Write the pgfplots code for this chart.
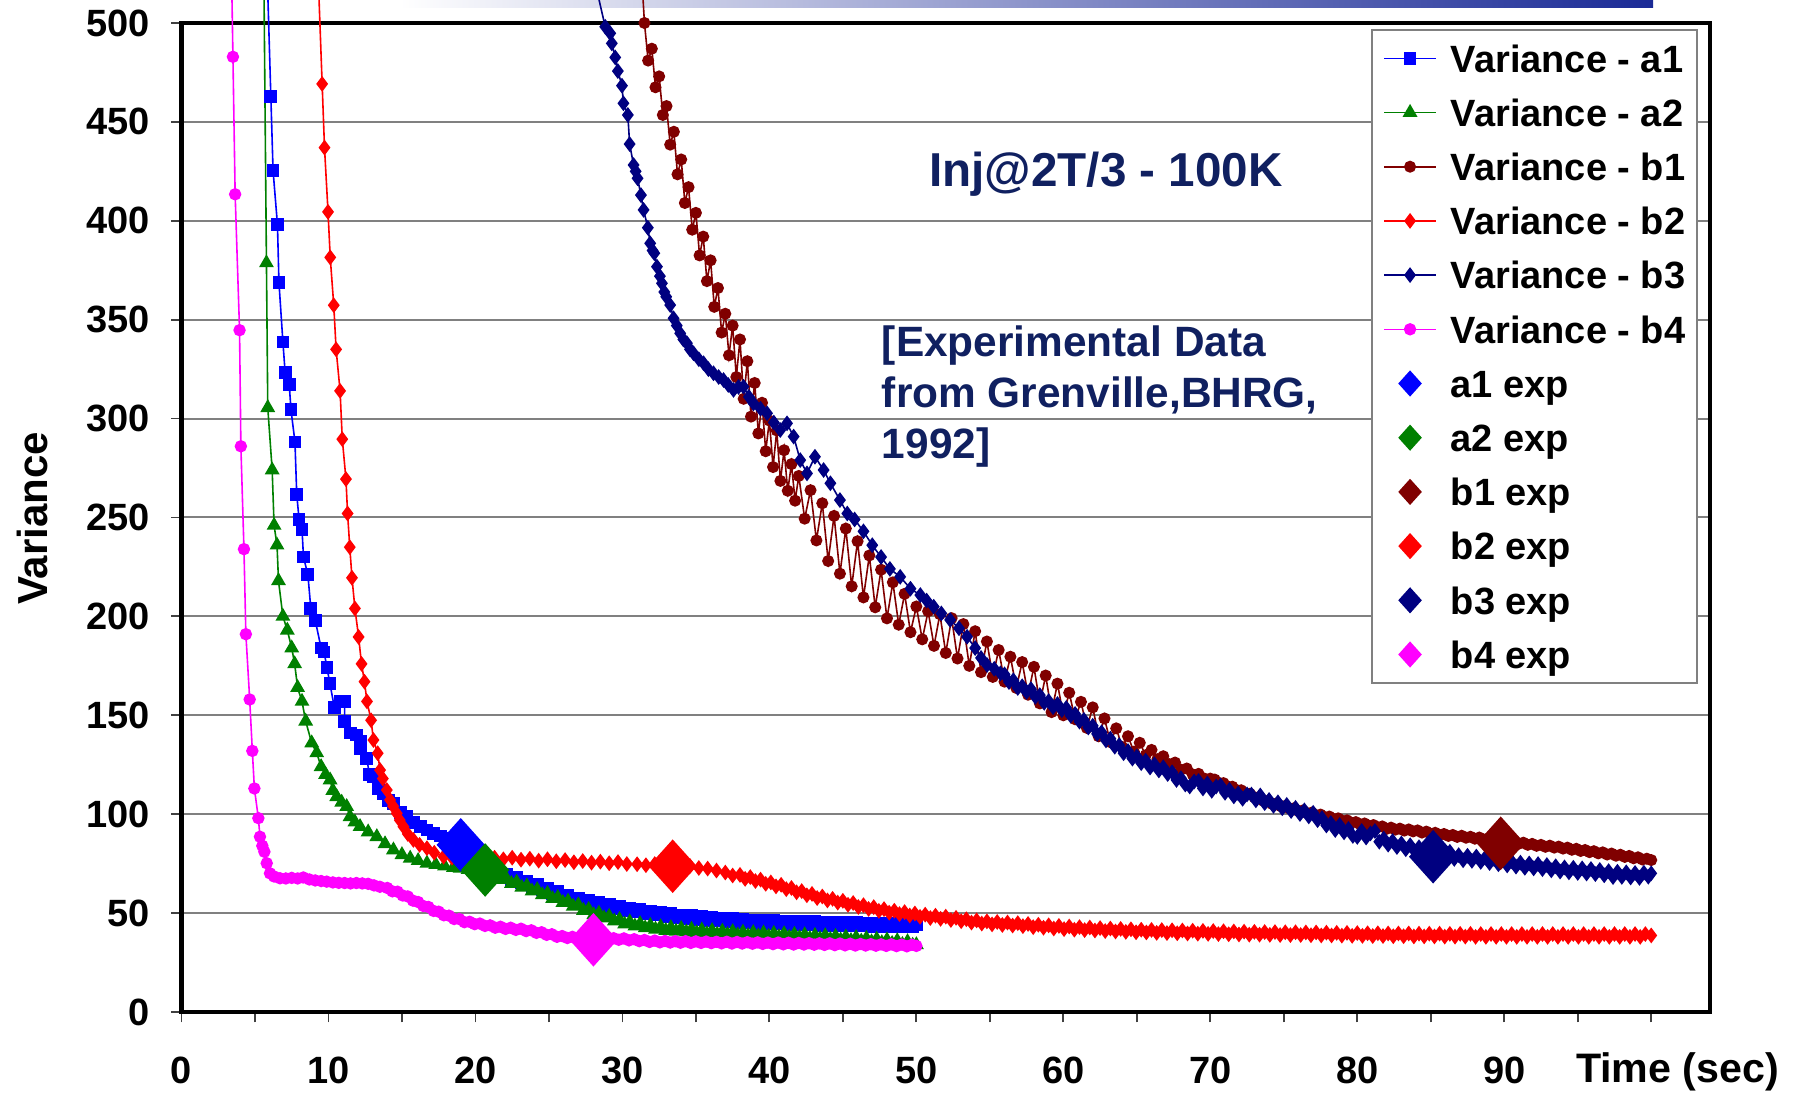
\documentclass[border=0pt]{standalone}
\usepackage{fontspec}
\setmainfont{Liberation Sans}
\usepackage{pgfplots}
\usepackage{pgfplotstable}
\pgfplotsset{compat=1.18}
\definecolor{cA1}{RGB}{0,0,255}
\definecolor{cA2}{RGB}{0,128,0}
\definecolor{cB1}{RGB}{128,0,0}
\definecolor{cB2}{RGB}{255,0,0}
\definecolor{cB3}{RGB}{0,0,128}
\definecolor{cB4}{RGB}{255,0,255}
\definecolor{txtnavy}{RGB}{16,32,96}
\definecolor{bannerdark}{RGB}{26,42,150}
\newcommand{\lstrut}{\rule[-3.35pt]{0pt}{13.55pt}}
\pgfplotsset{
  expimg/.style={legend image code/.code={\draw[##1, mark size=2.9pt] plot coordinates {(6.5pt,0pt)};}},
  expmark/.style={only marks, color=#1, mark=diamond*, mark size=6.4pt, mark options={xscale=1.2, fill=#1}, expimg},
}

\pgfplotstableread{
x y
5.69 560
6.08 462.7
6.23 425.4
6.53 398
6.63 368.9
6.90 338.7
7.05 323.5
7.33 317.3
7.45 304.4
7.72 288.2
7.84 261.8
8.00 249
8.20 244
8.30 230
8.60 221
8.80 204
9.10 198
9.50 184
9.70 182
9.90 174
10.10 166
10.40 154
10.80 157
11.10 157
11.10 147
11.50 141
11.90 140
12.20 137
12.20 133
12.60 128
12.80 120
13.06 119
13.40 113
13.74 110.6
14.10 107
14.42 105.5
14.90 101
15.33 98.7
15.80 96
16.24 93.7
16.70 92
17.14 90.3
17.60 89
18.05 87.8
18.50 85
18.96 82.8
19.50 80
20.00 78.8
20.35 75.3
20.70 75.0
21.05 71.5
21.40 71.9
21.75 69.1
22.10 69.6
22.45 67.1
22.80 67.8
23.15 65.3
23.50 66.1
23.85 63.6
24.20 64.3
24.55 61.8
24.90 62.6
25.25 60.1
25.60 60.8
25.95 58.3
26.30 59.1
26.65 56.6
27.00 57.3
27.35 55.2
27.70 56.3
28.05 54.2
28.40 55.4
28.75 53.5
29.10 54.6
29.45 52.3
29.80 53.2
30.15 51.1
30.50 52.5
30.85 50.6
31.20 51.8
31.55 49.8
31.90 50.9
32.25 49.0
32.60 50.2
32.95 48.2
33.30 49.6
33.65 47.7
34.00 49.0
34.35 47.2
34.70 48.6
35.05 46.8
35.40 48.2
35.75 46.4
36.10 47.8
36.45 46.0
36.80 47.4
37.15 45.6
37.50 47.1
37.85 45.4
38.20 46.8
38.55 45.1
38.90 46.5
39.25 44.8
39.60 46.3
39.95 44.6
40.30 46.1
40.65 44.5
41.00 46.0
41.35 44.3
41.70 45.9
42.05 44.2
42.40 45.7
42.75 44.1
43.10 45.6
43.45 43.9
43.80 45.4
44.15 43.8
44.50 45.3
44.85 43.7
45.20 45.2
45.55 43.6
45.90 45.1
46.25 43.5
46.60 45.0
46.95 43.4
47.30 44.9
47.65 43.3
48.00 44.8
48.35 43.2
48.70 44.7
49.05 43.1
49.40 44.6
49.75 43.0
50.00 44.2
}\tAone

\pgfplotstableread{
x y
5.56 560
5.78 378.7
5.87 305.5
6.17 274
6.30 246
6.50 236
6.60 218
6.90 200
7.20 193
7.50 184
7.70 176
7.90 164
8.20 157
8.45 147
8.86 136
9.20 131
9.50 124
9.80 120
10.11 117.3
10.30 112
10.56 108.8
10.90 106
11.24 103.8
11.47 98.7
11.80 96
12.15 93.7
12.70 91
13.29 88.6
13.85 85
14.42 81.9
15.00 79.5
15.56 77.7
16.10 76.5
16.70 75.2
17.30 74.5
17.90 73.8
18.50 73
18.96 72.6
19.50 72
20.00 72.3
20.35 70.1
20.70 71.1
21.05 68.9
21.40 69.5
21.75 66.9
22.10 67.5
22.45 64.9
22.80 65.6
23.15 63.0
23.50 63.7
23.85 61.1
24.20 61.8
24.55 59.2
24.90 59.9
25.25 57.3
25.60 57.9
25.95 55.3
26.30 56.0
26.65 53.4
27.00 54.1
27.35 51.3
27.70 51.8
28.05 49.1
28.40 49.9
28.75 47.5
29.10 48.3
29.45 45.9
29.80 46.7
30.15 44.4
30.50 45.5
30.85 43.4
31.20 44.6
31.55 42.5
31.90 43.7
32.25 41.8
32.60 43.1
32.95 41.2
33.30 42.6
33.65 40.8
34.00 42.2
34.35 40.4
34.70 41.8
35.05 40.0
35.40 41.4
35.75 39.6
36.10 41.1
36.45 39.3
36.80 40.8
37.15 39.1
37.50 40.6
37.85 38.9
38.20 40.3
38.55 38.6
38.90 40.1
39.25 38.4
39.60 39.9
39.95 38.2
40.30 39.7
40.65 38.0
41.00 39.5
41.35 37.7
41.70 39.2
42.05 37.5
42.40 39.0
42.75 37.2
43.10 38.7
43.45 37.0
43.80 38.5
44.15 36.7
44.50 38.2
44.85 36.4
45.20 37.9
45.55 36.1
45.90 37.6
46.25 35.8
46.60 37.2
46.95 35.4
47.30 36.8
47.65 35.0
48.00 36.4
48.35 34.6
48.70 36.0
49.05 34.1
49.40 35.5
49.75 33.7
50.00 34.0
}\tAtwo

\pgfplotstableread{
x y
31.30 525
31.50 500
31.75 481
32.00 487
32.25 467.5
32.50 473
32.75 453.5
33.00 458
33.25 438.5
33.50 445
33.75 423.5
34.00 431
34.25 409
34.50 417
34.75 395.5
35.00 404
35.25 382.5
35.50 392
35.75 369.5
36.00 380
36.25 356.5
36.50 366
36.75 343.5
37.00 353
37.25 332
37.50 347
37.75 321
38.00 340
38.25 310
38.50 329
38.75 301
39.00 318
39.25 292.5
39.50 308
39.75 283.5
40.00 299
40.25 275.5
40.50 294
40.75 268.5
41.00 284
41.25 263.5
41.50 277
41.75 258.5
42.00 271
42.40 249.4
42.80 263.8
43.20 238.4
43.60 257.2
44.00 228
44.40 250.8
44.80 221.6
45.20 244.4
45.60 215.2
46.00 238
46.40 209.6
46.80 230.8
47.20 204.6
47.60 223.6
48.00 199
48.40 217.2
48.80 195.8
49.20 211.4
49.60 192
50.00 205
50.40 188.4
50.80 202.6
51.20 185.1
51.60 201.1
52.00 181.5
52.40 199.1
52.80 178.7
53.20 196.1
53.60 175
54.00 192.5
54.40 171.8
54.80 187.3
55.20 169.4
55.60 183
56.00 167
56.40 179.6
56.80 163.8
57.20 176.9
57.60 160.4
58.00 174.5
58.40 156
58.80 170.1
59.20 151.6
59.60 166
60.00 150
60.40 161.4
60.80 148
61.20 156.8
61.60 143.6
62.00 154
62.40 139.4
62.80 148.4
63.20 136.4
63.60 143.4
64.00 134
64.40 139.4
64.80 131.6
65.20 136.1
65.60 129.8
66.00 132.5
66.40 127.8
66.80 129.3
67.20 125.3
67.60 126.1
68.00 122.5
68.40 123.1
68.80 120.1
69.20 120.4
69.60 118
70.00 118
70.30 117.5
70.60 115.8
70.90 115.7
71.20 114.0
71.50 113.9
71.80 112.2
72.10 112.1
72.40 110.4
72.70 110.3
73.00 108.6
73.30 108.5
73.60 106.8
73.90 106.7
74.20 105.2
74.50 105.4
74.80 104.0
75.10 104.2
75.40 102.8
75.70 103.0
76.00 101.6
76.30 101.9
76.60 100.5
76.90 100.8
77.20 99.5
77.50 99.8
77.80 98.5
78.10 98.8
78.40 97.5
78.70 97.9
79.00 96.6
79.30 96.9
79.60 95.7
79.90 96.0
80.20 94.9
80.50 95.3
80.80 94.1
81.10 94.5
81.40 93.4
81.70 93.8
82.00 92.6
82.30 93.2
82.60 92.2
82.90 92.7
83.20 91.7
83.50 92.3
83.80 91.3
84.10 91.8
84.40 90.7
84.70 91.2
85.00 90.1
85.30 90.6
85.60 89.5
85.90 90.0
86.20 89.0
86.50 89.5
86.80 88.5
87.10 89.1
87.40 88.1
87.70 88.6
88.00 87.6
88.30 88.2
88.60 87.2
88.90 87.7
89.20 86.7
89.50 87.3
89.80 86.3
90.10 86.8
90.40 85.7
90.70 86.2
91.00 85.1
91.30 85.6
91.60 84.5
91.90 85.0
92.20 84.0
92.50 84.5
92.80 83.5
93.10 84.1
93.40 83.1
93.70 83.6
94.00 82.6
94.30 83.1
94.60 82.0
94.90 82.5
95.20 81.4
95.50 81.9
95.80 80.8
96.10 81.3
96.40 80.2
96.70 80.7
97.00 79.6
97.30 80.1
97.60 79.0
97.90 79.5
98.20 78.4
98.50 78.9
98.80 77.7
99.10 78.2
99.40 77.1
99.70 77.5
100.00 76.8
}\tBone

\pgfplotstableread{
x y
9.12 560
9.57 469.2
9.73 437
9.97 404.5
10.12 381.5
10.36 357.3
10.52 335
10.79 314
10.94 289.6
11.19 269.4
11.30 252
11.45 235
11.60 219.5
11.80 204
12.05 189.6
12.25 176
12.45 167
12.62 157
12.90 147.5
13.06 137.5
13.35 130.8
13.51 122.3
13.70 118
13.97 112.2
14.19 107.2
14.40 104
14.65 100.4
14.85 97
15.10 93.7
15.40 90
15.78 87
16.20 84.5
16.70 82.8
17.20 80.5
17.83 78.5
18.40 78
19.00 78.2
19.60 77.5
20.10 78.5
20.70 77.5
21.30 78
21.90 77.2
22.50 78
23.10 77
23.70 77.5
24.30 76.5
24.90 77.2
25.50 76.2
26.10 76.8
26.70 75.7
27.30 76.3
27.90 75.5
28.50 76
29.10 75.2
29.70 75.8
30.30 74.8
31.00 74.7
31.60 74.2
32.20 74.8
32.80 73.8
33.40 74.2
34.00 73.5
34.60 73.8
35.20 72.8
35.80 72.5
36.40 71.5
37.00 70.5
37.50 69
38.00 69.3
38.35 67.3
38.70 68.2
39.05 66.2
39.40 66.9
39.75 64.8
40.10 65.5
40.45 63.5
40.80 64.3
41.15 62.1
41.50 62.7
41.85 60.5
42.20 61.1
42.55 59.0
42.90 59.7
43.25 57.6
43.60 58.4
43.95 56.4
44.30 57.2
44.65 55.3
45.00 56.2
45.35 54.2
45.70 55.1
46.05 53.1
46.40 54.0
46.75 52.1
47.10 53.0
47.45 51.1
47.80 52.0
48.15 50.2
48.50 51.2
48.85 49.5
49.20 50.5
49.55 48.8
49.90 49.8
50.25 48.1
50.60 49.2
50.95 47.5
51.30 48.7
51.65 47.1
52.00 48.2
52.35 46.5
52.70 47.6
53.05 45.9
53.40 46.9
53.75 45.2
54.10 46.3
54.45 44.7
54.80 45.8
55.15 44.3
55.50 45.5
55.85 44.0
56.20 45.2
56.55 43.7
56.90 44.9
57.25 43.4
57.60 44.5
57.95 42.9
58.30 44.1
58.65 42.6
59.00 43.8
59.35 42.2
59.70 43.5
60.05 41.9
60.40 43.2
60.75 41.6
61.10 42.9
61.45 41.4
61.80 42.7
62.15 41.2
62.50 42.4
62.85 40.9
63.20 42.2
63.55 40.7
63.90 42.0
64.25 40.5
64.60 41.8
64.95 40.3
65.30 41.6
65.65 40.2
66.00 41.5
66.35 40.0
66.70 41.4
67.05 39.9
67.40 41.3
67.75 39.8
68.10 41.2
68.45 39.7
68.80 41.1
69.15 39.6
69.50 41.0
69.85 39.5
70.20 40.9
70.55 39.4
70.90 40.8
71.25 39.3
71.60 40.7
71.95 39.2
72.30 40.6
72.65 39.1
73.00 40.5
73.35 39.1
73.70 40.4
74.05 39.0
74.40 40.4
74.75 38.9
75.10 40.3
75.45 38.9
75.80 40.3
76.15 38.9
76.50 40.2
76.85 38.8
77.20 40.2
77.55 38.7
77.90 40.1
78.25 38.7
78.60 40.0
78.95 38.6
79.30 40.0
79.65 38.5
80.00 39.9
80.35 38.5
80.70 39.8
81.05 38.4
81.40 39.8
81.75 38.4
82.10 39.7
82.45 38.3
82.80 39.7
83.15 38.3
83.50 39.7
83.85 38.2
84.20 39.6
84.55 38.2
84.90 39.6
85.25 38.2
85.60 39.6
85.95 38.1
86.30 39.5
86.65 38.1
87.00 39.5
87.35 38.1
87.70 39.5
88.05 38.0
88.40 39.4
88.75 38.0
89.10 39.4
89.45 38.0
89.80 39.4
90.15 38.0
90.50 39.4
90.85 38.0
91.20 39.4
91.55 38.0
91.90 39.4
92.25 38.0
92.60 39.4
92.95 38.0
93.30 39.4
93.65 38.0
94.00 39.4
94.35 38.0
94.70 39.4
95.05 38.0
95.40 39.4
95.75 38.0
96.10 39.4
96.45 38.0
96.80 39.4
97.15 38.0
97.50 39.4
97.85 38.0
98.20 39.4
98.55 38.0
98.90 39.4
99.25 38.0
99.60 39.4
100.00 38.7
}\tBtwo

\pgfplotstableread{
x y
28.00 525
28.83 498.1
29.17 494.8
29.28 489.7
29.51 482.6
29.69 475.7
29.97 468.3
30.07 459.4
30.37 453.5
30.49 438.8
30.76 428.2
30.90 425
31.03 421.5
31.26 413
31.44 405.5
31.73 396.5
31.89 388.6
32.05 385
32.17 383.6
32.35 376.8
32.55 372
32.69 368.4
32.85 364
32.98 361.6
33.25 357.4
33.48 350.7
33.70 347
33.93 343.1
34.15 340
34.39 338.1
34.60 335
34.84 333
35.20 330
35.52 328
35.85 325
36.20 322.9
36.55 321
36.88 319.5
37.20 317
37.56 314.5
37.90 316
38.24 316.1
38.60 311
38.92 307.7
39.40 305
39.84 302.7
40.30 298
40.74 294.2
41.20 297.6
41.65 290.9
42.10 279
42.56 272.3
43.10 280.7
43.69 274
44.15 267.3
44.80 258.8
45.30 252
45.80 249
46.40 243
47.00 236
47.60 230
48.20 224
48.90 220
49.60 214
50.27 210.8
50.70 208
51.18 204.9
51.70 201.5
52.30 198.2
52.90 194
53.45 189.7
54.00 184
54.40 179
54.81 175.4
55.30 173.5
55.72 171.2
56.00 170.7
56.30 166.8
56.60 167.7
56.90 163.8
57.20 164.7
57.50 161.8
57.80 163.2
58.10 159.3
58.40 160.2
58.70 156.3
59.00 157.2
59.30 154.1
59.60 155.7
59.90 152.6
60.20 153.7
60.50 149.8
60.80 150.7
61.10 146.8
61.40 147.7
61.70 143.8
62.00 144.7
62.30 140.6
62.60 141.4
62.90 137.3
63.20 138.2
63.50 134.1
63.80 134.9
64.10 130.8
64.40 131.9
64.70 128.1
65.00 129.2
65.30 125.8
65.60 127.1
65.90 123.6
66.20 125.2
66.50 122.1
66.80 123.7
67.10 120.3
67.40 121.2
67.70 117.3
68.00 118.2
68.30 115.0
68.60 114.0
68.90 116.5
69.20 116.8
69.50 113.0
69.80 115.5
70.10 111.8
70.40 114.0
70.70 114.5
71.00 110.8
71.30 112.3
71.60 109.0
71.90 110.5
72.20 107.8
72.50 110.0
72.80 109.9
73.10 107.0
73.40 109.5
73.70 105.6
74.00 107.2
74.30 104.2
74.60 106.0
74.90 103.0
75.20 104.7
75.50 101.6
75.80 103.2
76.10 100.1
76.40 101.9
76.70 98.9
77.00 100.7
77.30 97.0
77.60 98.0
77.90 94.3
78.20 95.5
78.50 92.0
78.80 94.5
79.10 90.8
79.40 92.5
79.70 89.0
80.00 88.5
80.30 91.5
80.60 88.2
80.90 90.3
81.20 91.5
81.50 86.1
81.80 87.7
82.10 84.6
82.40 86.4
82.70 83.4
83.00 85.2
83.30 82.3
83.60 84.3
83.90 81.4
84.20 83.3
84.50 80.5
84.80 82.5
85.10 79.6
85.40 81.6
85.70 78.7
86.00 80.7
86.30 81.0
86.60 77.4
86.90 79.3
87.20 76.7
87.50 79.0
87.80 76.4
88.10 78.6
88.40 75.9
88.70 78.0
89.00 75.3
89.30 77.4
89.60 74.7
89.90 76.8
90.20 74.1
90.50 76.2
90.80 73.5
91.10 75.5
91.40 72.9
91.70 75.1
92.00 72.6
92.30 74.8
92.60 72.2
92.90 74.3
93.20 71.6
93.50 73.7
93.80 71.0
94.10 73.1
94.40 70.6
94.70 72.9
95.00 70.3
95.30 72.6
95.60 70.0
95.90 72.3
96.20 69.7
96.50 71.8
96.80 69.1
97.10 71.2
97.40 68.2
97.70 70.9
98.00 68.3
98.30 70.6
98.60 68.0
98.90 70.3
99.20 67.8
99.50 70.4
99.80 68.4
100.00 70.1
}\tBthree

\pgfplotstableread{
x y
3.33 560
3.50 482.9
3.65 413.4
3.95 344.7
4.04 286
4.25 234
4.38 191
4.64 158
4.82 132
4.96 113
5.23 98
5.34 88.6
5.50 84
5.64 81
5.80 75.2
6.02 70.1
6.30 68.5
6.70 67.6
7.10 67.5
7.50 67.8
7.90 67.5
8.29 68
8.70 67
9.10 66.5
9.50 66.2
9.88 65.9
10.30 65.5
10.70 65.3
11.10 65.2
11.50 65
11.90 65.2
12.30 65
12.70 64.8
13.10 64
13.50 63.3
14.00 62.7
14.35 61.0
14.70 60.8
15.05 58.9
15.40 58.4
15.75 56.3
16.10 55.6
16.45 53.6
16.80 53.1
17.15 51.1
17.50 50.7
17.85 48.9
18.20 48.7
18.55 47.0
18.90 47.0
19.25 45.4
19.60 45.6
19.95 44.4
20.30 44.7
20.65 43.5
21.00 43.8
21.35 42.6
21.70 43.1
22.05 42.0
22.40 42.6
22.75 41.5
23.10 42.1
23.45 40.9
23.80 41.3
24.15 40.0
24.50 40.3
24.85 39.0
25.20 39.3
25.55 38.0
25.90 38.4
26.25 37.4
26.60 38.0
26.95 36.9
27.30 37.6
27.65 36.6
28.00 37.4
28.35 36.5
28.70 37.3
29.05 36.5
29.40 37.3
29.75 36.5
30.10 37.2
30.45 36.2
30.80 36.8
31.15 35.8
31.50 36.4
31.85 35.4
32.20 36.1
32.55 35.2
32.90 35.9
33.25 35.1
33.60 35.8
33.95 35.0
34.30 35.8
34.65 34.9
35.00 35.7
35.35 34.9
35.70 35.6
36.05 34.8
36.40 35.5
36.75 34.7
37.10 35.5
37.45 34.6
37.80 35.4
38.15 34.6
38.50 35.3
38.85 34.5
39.20 35.2
39.55 34.4
39.90 35.1
40.25 34.3
40.60 35.1
40.95 34.2
41.30 35.0
41.65 34.1
42.00 34.9
42.35 34.1
42.70 34.8
43.05 34.0
43.40 34.7
43.75 33.9
44.10 34.7
44.45 33.8
44.80 34.6
45.15 33.7
45.50 34.5
45.85 33.6
46.20 34.4
46.55 33.6
46.90 34.3
47.25 33.5
47.60 34.2
47.95 33.4
48.30 34.2
48.65 33.3
49.00 34.1
49.35 33.2
49.70 34.0
50.00 33.4
}\tBfour

\begin{document}
\begin{tikzpicture}
\useasboundingbox (-45.375pt,-21.5pt) rectangle (406.625pt,253pt);
\clip (-45.375pt,-21.5pt) rectangle (406.625pt,253pt);
\shade[left color=white, right color=bannerdark] (54.6pt,251pt) rectangle (367.9pt,253.5pt);
\begin{axis}[
  at={(0pt,0pt)}, anchor=south west,
  width=382.125pt, height=247.25pt, scale only axis,
  xmin=0, xmax=104, ymin=0, ymax=500,
  clip=false,
  axis line style={line width=1.1pt, black},
  xtick={0,10,...,90}, minor xtick={5,15,...,95,100},
  ytick={0,50,...,500},
  tick align=outside, xtick pos=left, ytick pos=left,
  major tick length=2.6pt, minor tick length=2.6pt,
  tick style={line width=0.45pt, black!75},
  ymajorgrids, grid style={line width=0.5pt, black!50},
  /pgf/number format/assume math mode=true,
  ticklabel style={font=\bfseries\fontsize{9.5}{11}\selectfont},
  xticklabel style={yshift=-5pt},
  yticklabel style={xshift=-1.8pt},
  legend cell align=left,
  legend style={
    at={(0.99208,0.99393)}, anchor=north east,
    draw=black!50, line width=0.5pt, fill=white,
    inner xsep=2.9pt, inner ysep=0.3pt,
    font=\bfseries\fontsize{9.5}{11}\selectfont,
    row sep=0pt,
    nodes={inner sep=0pt, text depth=},
    /tikz/every odd column/.append style={column sep=3.5pt},
  },
  legend image code/.code={\draw[mark repeat=2,mark phase=2,#1] plot coordinates {(0pt,0pt) (6.5pt,0pt) (13pt,0pt)};},
]
\addplot[color=cA1, line width=0.4pt, mark=square*, mark size=1.4pt, mark options={solid, fill=cA1}] table {\tAone};
\addlegendentry{\lstrut Variance - a1}
\addplot[color=cA2, line width=0.4pt, mark=triangle*, mark size=1.75pt, mark options={solid, fill=cA2}] table {\tAtwo};
\addlegendentry{\lstrut Variance - a2}
\addplot[color=cB1, line width=0.4pt, mark=*, mark size=1.3pt, mark options={solid, fill=cB1}] table {\tBone};
\addlegendentry{\lstrut Variance - b1}
\addplot[color=cB2, line width=0.4pt, mark=diamond*, mark size=1.65pt, mark options={solid, fill=cB2}] table {\tBtwo};
\addlegendentry{\lstrut Variance - b2}
\addplot[color=cB3, line width=0.4pt, mark=diamond*, mark size=1.65pt, mark options={solid, fill=cB3}] table {\tBthree};
\addlegendentry{\lstrut Variance - b3}
\addplot[color=cB4, line width=0.4pt, mark=*, mark size=1.35pt, mark options={solid, fill=cB4}] table {\tBfour};
\addlegendentry{\lstrut Variance - b4}

\addplot[expmark=cA1] coordinates {(19.0,84.5)};
\addlegendentry{\lstrut a1 exp}
\addplot[expmark=cA2] coordinates {(20.66,71.8)};
\addlegendentry{\lstrut a2 exp}
\addplot[expmark=cB1] coordinates {(89.76,85.3)};
\addlegendentry{\lstrut b1 exp}
\addplot[expmark=cB2] coordinates {(33.42,73.7)};
\addlegendentry{\lstrut b2 exp}
\addplot[expmark=cB3] coordinates {(85.16,78.5)};
\addlegendentry{\lstrut b3 exp}
\addplot[expmark=cB4] coordinates {(28.03,36.5)};
\addlegendentry{\lstrut b4 exp}

\node[font=\bfseries\fontsize{11.9}{14}\selectfont, text=txtnavy] at (axis cs:62.9,423.7) {Inj@2T/3 - 100K};
\node[font=\bfseries\fontsize{10.6}{12.7}\selectfont, text=txtnavy, align=left, anchor=west, inner sep=0pt] at (axis cs:47.6,311.2) {[Experimental Data\\from Grenville,BHRG,\\1992]};
\end{axis}
\node[rotate=90, font=\bfseries\fontsize{10.5}{12}\selectfont] at (-37.3pt,123.4pt) {Variance};
\node[font=\bfseries\fontsize{10.3}{12}\selectfont] at (374pt,-15pt) {Time (sec)};
\end{tikzpicture}
\end{document}
